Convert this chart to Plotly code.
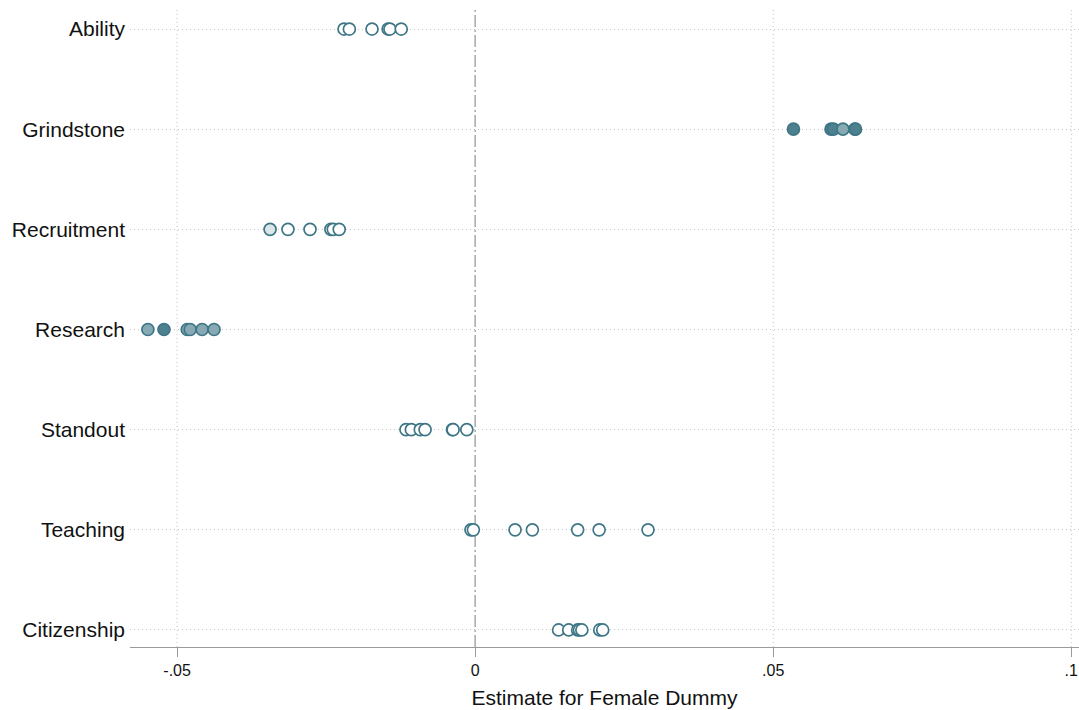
import plotly.graph_objects as go

categories = ["Ability", "Grindstone", "Recruitment", "Research", "Standout", "Teaching", "Citizenship"]

ability = [-0.0220, -0.0211, -0.0173, -0.0146, -0.0143, -0.0124]
grindstone = [0.0534, 0.0597, 0.0601, 0.0617, 0.0637, 0.0638]
recruitment = [-0.0344, -0.0314, -0.0277, -0.0242, -0.0238, -0.0228]
research = [-0.0549, -0.0522, -0.0483, -0.0478, -0.0458, -0.0438]
standout = [-0.0116, -0.0107, -0.0092, -0.0084, -0.0038, -0.0037, -0.0014]
teaching = [-0.0007, -0.0003, 0.0067, 0.0096, 0.0172, 0.0208, 0.0290]
citizenship = [0.0140, 0.0157, 0.0172, 0.0175, 0.0179, 0.0209, 0.0214]

# significance level of each estimate (0 = none, 1 = weak, 2 = moderate, 3 = strong)
ability_sig = [0, 0, 0, 0, 0, 0]
grindstone_sig = [3, 3, 3, 2, 3, 3]
recruitment_sig = [1, 0, 0, 0, 0, 0]
research_sig = [2, 3, 2, 2, 2, 2]
standout_sig = [0, 0, 0, 0, 0, 0, 0]
teaching_sig = [0, 0, 0, 0, 0, 0, 0]
citizenship_sig = [0, 0, 0, 0, 0, 0, 0]

x_ticks = [-0.05, 0, 0.05, 0.1]
x_tick_labels = ["-.05", "0", ".05", ".1"]

series = [ability, grindstone, recruitment, research, standout, teaching, citizenship]
sigs = [ability_sig, grindstone_sig, recruitment_sig, research_sig, standout_sig, teaching_sig, citizenship_sig]

fill_colors = {0: "#ffffff", 1: "#dbe6ea", 2: "#86a9b3", 3: "#4e808f"}
edge = "#3e7686"
grid_color = "#c4c4c4"

fig = go.Figure()

# vertical gridlines at non-zero ticks
for xv in x_ticks:
    if xv != 0:
        fig.add_shape(type="line", xref="x", yref="paper", x0=xv, x1=xv, y0=0, y1=1,
                      line=dict(color=grid_color, width=1, dash="1px,3px"), layer="below")

# zero reference line
fig.add_shape(type="line", xref="x", yref="paper", x0=0, x1=0, y0=0, y1=1,
              line=dict(color="#a8a8a8", width=1.5, dash="12px,3px,2px,3px"), layer="below")

for i, (vals, sg) in enumerate(zip(series, sigs)):
    fig.add_trace(go.Scatter(
        x=vals, y=[i] * len(vals), mode="markers",
        marker=dict(size=12, color=[fill_colors[s] for s in sg],
                    line=dict(color=edge, width=1.7), symbol="circle"),
        showlegend=False, hoverinfo="x",
    ))

fig.update_layout(
    width=1079, height=710,
    margin=dict(l=130, r=0, t=10, b=63),
    paper_bgcolor="white", plot_bgcolor="white",
    font=dict(family="Liberation Sans, Arial, Helvetica, sans-serif", color="#111111"),
    xaxis=dict(
        range=[-0.0579, 0.1013],
        tickvals=x_ticks, ticktext=x_tick_labels,
        tickfont=dict(size=16), ticklabeloverflow="allow",
        showline=True, linecolor="#9a9a9a", linewidth=1.3,
        ticks="outside", ticklen=9, tickcolor="#9a9a9a", tickwidth=1.3,
        showgrid=False, zeroline=False, automargin=False,
        title=dict(text="Estimate for Female Dummy", font=dict(size=21), standoff=11),
    ),
    yaxis=dict(
        range=[6.17, -0.19],
        tickvals=list(range(len(categories))), ticktext=categories,
        tickfont=dict(size=21),
        showgrid=True, gridcolor=grid_color, griddash="1px,3px", gridwidth=1,
        zeroline=False, showline=False, ticks="", ticklabelstandoff=4,
        automargin=False,
    ),
)

fig.write_html(
    "out.html",
    config={"displayModeBar": False},
    post_script="document.body.style.margin='0';document.documentElement.style.overflow='hidden';document.body.style.overflow='hidden';",
)
